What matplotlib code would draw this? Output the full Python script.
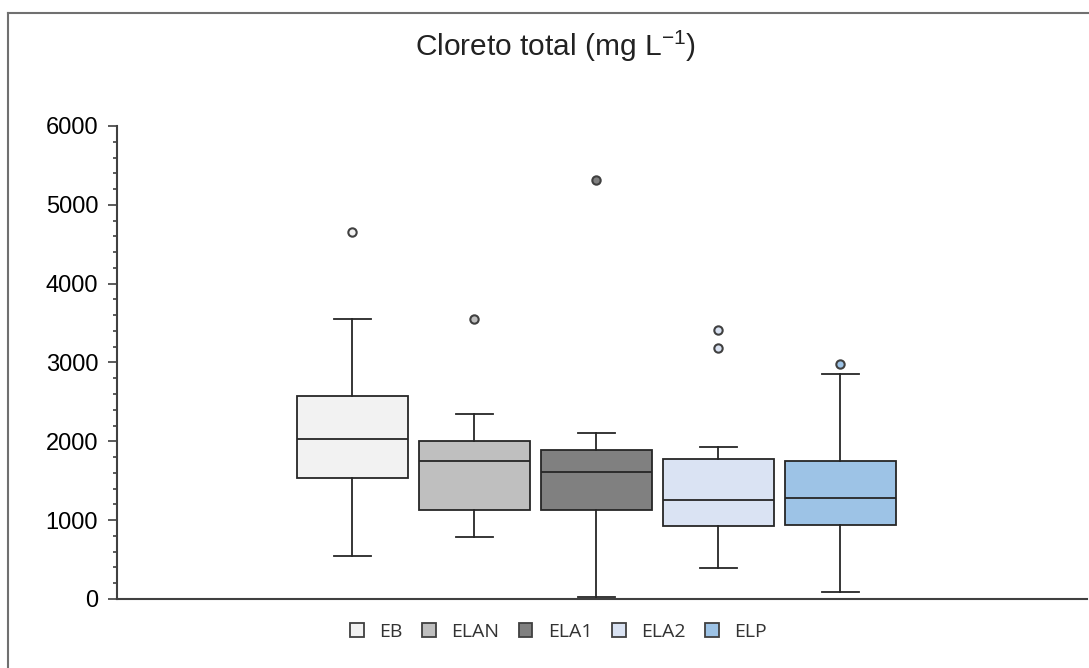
import matplotlib.pyplot as plt
from matplotlib.lines import Line2D
from matplotlib.patches import Patch
from matplotlib.ticker import MultipleLocator

plt.rcParams['font.family'] = ['Liberation Sans', 'DejaVu Sans']

groups = ['EB', 'ELAN', 'ELA1', 'ELA2', 'ELP']
whislo = [540, 790, 20, 390, 90]
q1 = [1530, 1130, 1130, 920, 940]
med = [2030, 1750, 1610, 1250, 1280]
q3 = [2570, 2010, 1890, 1780, 1750]
whishi = [3550, 2350, 2100, 1930, 2860]
outliers = [[4660], [3550], [5320], [3410, 3190], [2980]]
colors = ['#f2f2f2', '#bfbfbf', '#808080', '#dae3f3', '#9dc3e6']

stats = []
for i, g in enumerate(groups):
    stats.append({'label': g, 'whislo': whislo[i], 'q1': q1[i], 'med': med[i],
                  'q3': q3[i], 'whishi': whishi[i], 'fliers': outliers[i]})

fig = plt.figure(figsize=(10.89, 6.68), dpi=100)
ax = fig.add_axes([0.1074, 0.1033, 0.8906, 0.7081])

edge = '#262626'
bp = ax.bxp(stats, positions=range(1, 6), widths=0.91, patch_artist=True,
            showfliers=True,
            boxprops=dict(edgecolor=edge, linewidth=1.3),
            medianprops=dict(color=edge, linewidth=1.3),
            whiskerprops=dict(color=edge, linewidth=1.3),
            capprops=dict(color=edge, linewidth=1.3),
            capwidths=0.3)
for patch, c in zip(bp['boxes'], colors):
    patch.set_facecolor(c)
for fl, c in zip(bp['fliers'], colors):
    fl.set(marker='o', markersize=6, markerfacecolor=c, markeredgecolor='#404040',
           markeredgewidth=1.5)

ax.set_xlim(-0.93, 7.02)
ax.set_ylim(0, 6000)
ax.yaxis.set_major_locator(MultipleLocator(1000))
ax.yaxis.set_minor_locator(MultipleLocator(200))
ax.tick_params(axis='y', which='major', length=6.5, width=1.2, color='#404040',
               labelsize=17, pad=7)
ax.tick_params(axis='y', which='minor', length=3, width=1.2, color='#404040')
ax.tick_params(axis='x', bottom=False, labelbottom=False)
for s in ['top', 'right']:
    ax.spines[s].set_visible(False)
for s in ['left', 'bottom']:
    ax.spines[s].set_color('#404040')
    ax.spines[s].set_linewidth(1.5)

fig.text(0.51, 0.916, 'Cloreto total (mg L$^{\\mathregular{-1}}$)', ha='center',
         va='baseline', fontsize=21.5, color='#222222')

handles = [Patch(facecolor=c, edgecolor='#404040', linewidth=1.3) for c in colors]
fig.legend(handles, groups, loc='center', bbox_to_anchor=(0.513, 0.054), ncol=5,
           frameon=False, prop={'family': 'Open Sans', 'size': 14},
           handlelength=0.7, handleheight=0.7, columnspacing=1.0,
           handletextpad=0.8, labelcolor='#333333')

# chart area border
fig.add_artist(Line2D([8 / 1089, 1], [1 - 13 / 668, 1 - 13 / 668],
                      transform=fig.transFigure, color='#707070', linewidth=1.5))
fig.add_artist(Line2D([8 / 1089, 8 / 1089], [0, 1 - 13 / 668],
                      transform=fig.transFigure, color='#707070', linewidth=1.5))

fig.savefig('out.png')
